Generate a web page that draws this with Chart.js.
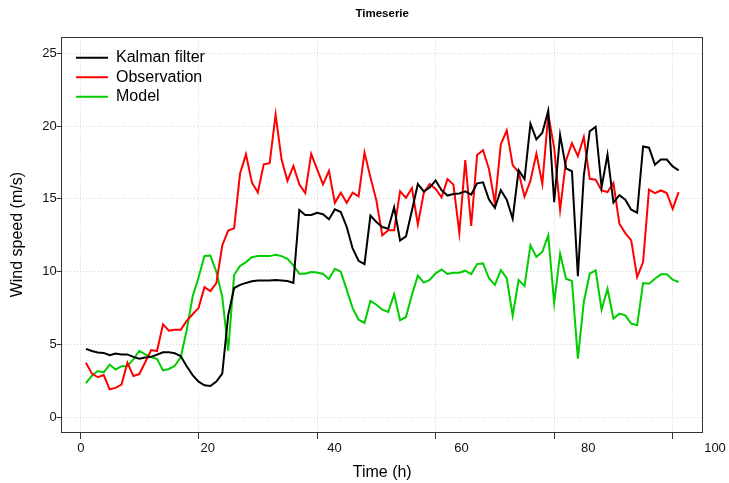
<!DOCTYPE html>
<html>
<head>
<meta charset="utf-8">
<script src="https://cdn.jsdelivr.net/npm/chart.js@4.4.1/dist/chart.umd.min.js"></script>
<style>
html,body{margin:0;padding:0;background:#fff;}
canvas{display:block;background:#fff;}
</style>
</head>
<body>
<canvas id="c" width="729" height="483"></canvas>
<script>
// ---- data ----
const hours = [1,2,3,4,5,6,7,8,9,10,11,12,13,14,15,16,17,18,19,20,
  21,22,23,24,25,26,27,28,29,30,31,32,33,34,35,36,37,38,39,40,
  41,42,43,44,45,46,47,48,49,50,51,52,53,54,55,56,57,58,59,60,
  61,62,63,64,65,66,67,68,69,70,71,72,73,74,75,76,77,78,79,80,
  81,82,83,84,85,86,87,88,89,90,91,92,93,94,95,96,97,98,99,100,101];

const kalman = [4.7,4.55,4.45,4.42,4.26,4.38,4.32,4.32,4.15,4.02,
  4.1,4.15,4.3,4.47,4.47,4.4,4.2,3.5,2.9,2.45,
  2.2,2.15,2.45,3.0,7.0,8.88,9.1,9.23,9.34,9.4,
  9.4,9.4,9.43,9.4,9.36,9.23,14.24,13.9,13.9,14.05,
  13.95,13.6,14.28,14.1,13.07,11.6,10.75,10.52,13.86,13.42,
  13.07,12.95,14.43,12.14,12.43,14.2,16.02,15.52,15.78,16.27,
  15.6,15.23,15.34,15.37,15.52,15.3,16.07,16.14,14.95,14.39,
  15.6,14.95,13.64,16.98,16.36,20.16,19.09,19.55,21.05,14.78,
  19.4,17.1,16.9,9.7,16.6,19.65,19.95,15.8,18.04,14.75,
  15.26,14.95,14.26,14.05,18.6,18.52,17.35,17.7,17.7,17.23,
  16.96];

const observation = [3.74,3.0,2.75,2.9,1.92,2.02,2.25,3.75,2.84,2.97,
  3.78,4.62,4.55,6.38,5.95,6.02,6.02,6.62,7.08,7.5,
  8.94,8.67,9.22,11.8,12.82,12.98,16.74,18.06,16.13,15.44,
  17.38,17.45,20.8,17.72,16.24,17.27,16.0,15.4,18.1,17.05,
  16.0,16.93,14.73,15.43,14.73,15.43,15.18,18.18,16.48,14.9,
  12.5,12.84,12.84,15.52,15.07,15.75,13.25,15.41,16.02,15.68,
  15.11,16.36,15.98,12.66,17.66,13.14,18.02,18.34,17.05,14.7,
  18.75,19.7,17.32,16.82,15.16,16.25,18.11,16.02,20.8,18.5,
  14.25,17.64,18.83,17.94,19.25,16.38,16.32,15.58,15.47,16.09,
  13.3,12.65,12.15,9.63,10.66,15.63,15.4,15.58,15.4,14.32,
  15.47];

const model = [2.35,2.85,3.18,3.08,3.62,3.28,3.51,3.52,3.97,4.57,
  4.32,4.14,4.0,3.22,3.32,3.54,4.14,5.98,8.3,9.6,
  11.08,11.11,10.0,8.27,4.57,9.77,10.39,10.66,11.0,11.07,
  11.07,11.07,11.16,11.07,10.89,10.43,9.86,9.86,9.98,9.95,
  9.84,9.5,10.2,10.0,8.75,7.5,6.7,6.48,8.0,7.73,
  7.39,7.23,8.45,6.66,6.89,8.41,9.73,9.25,9.43,9.89,
  10.16,9.84,9.93,9.93,10.07,9.84,10.52,10.57,9.55,9.09,
  10.11,9.55,6.98,9.43,9.02,11.82,11.02,11.36,12.5,7.85,
  11.24,9.52,9.36,4.03,7.92,9.86,10.09,7.39,8.83,6.77,
  7.12,7.0,6.43,6.32,9.22,9.17,9.52,9.82,9.82,9.45,
  9.29];

const seriesNames = ['Kalman filter', 'Observation', 'Model'];
const xTickValues = [0, 20, 40, 60, 80, 100];
const yTickValues = [0, 5, 10, 15, 20, 25];

// ---- chart ----
const FONT = "'Liberation Sans', Arial, Helvetica, sans-serif";
Chart.defaults.font.family = FONT;
Chart.defaults.color = '#111';

const toPoints = (vals) => hours.map((h, i) => ({x: h, y: vals[i]}));

const gridColor = '#d4d4d4';
const axisColor = '#333';

const legendPlacer = {
  id: 'legendPlacer',
  afterLayout(chart) {
    const lg = chart.legend, ca = chart.chartArea;
    if (!lg || !ca) return;
    const w = lg.width, h = lg.height;
    lg.left = ca.left + 10.8;
    lg.top = ca.top + 8.9;
    lg.right = lg.left + w;
    lg.bottom = lg.top + h;
  }
};

new Chart(document.getElementById('c'), {
  type: 'line',
  data: {
    datasets: [
      {label: seriesNames[0], data: toPoints(kalman), borderColor: '#000000', backgroundColor: '#000000'},
      {label: seriesNames[1], data: toPoints(observation), borderColor: '#ff0000', backgroundColor: '#ff0000'},
      {label: seriesNames[2], data: toPoints(model), borderColor: '#00cd00', backgroundColor: '#00cd00'}
    ]
  },
  plugins: [legendPlacer],
  options: {
    responsive: false,
    animation: false,
    devicePixelRatio: 1,
    datasets: {line: {borderWidth: 2, pointRadius: 0, tension: 0, fill: false}},
    layout: {padding: {left: 4, right: 26.3, top: 0, bottom: 0}},
    plugins: {
      tooltip: {enabled: false},
      title: {
        display: true, text: 'Timeserie', fullSize: false,
        font: {size: 11.5, weight: 'bold', family: FONT}, color: '#000',
        padding: {top: 7.4, bottom: 16.1}
      },
      legend: {
        position: 'chartArea', align: 'start',
        labels: {boxWidth: 32, boxHeight: 0, padding: 3.5, color: '#000', font: {size: 16, family: FONT}}
      }
    },
    scales: {
      x: {
        type: 'linear', position: 'bottom', min: -3.09, max: 105.06,
        afterBuildTicks: s => { s.ticks = xTickValues.map(v => ({value: v})); },
        ticks: {display: false},
        grid: {display: true, color: gridColor, lineWidth: 1, drawTicks: true, tickLength: 7, tickColor: axisColor, tickWidth: 1},
        border: {display: true, color: axisColor, width: 1, dash: [1, 2]}
      },
      xl: {
        type: 'linear', position: 'bottom', weight: 1, min: -3.04, max: 98.06,
        afterBuildTicks: s => { s.ticks = xTickValues.map(v => ({value: v})); },
        afterFit: s => { s.paddingLeft = 0; s.paddingRight = 0; },
        ticks: {display: true, padding: 2, autoSkip: false, maxRotation: 0, color: '#111', font: {size: 13, family: FONT}},
        grid: {display: false, drawTicks: false},
        border: {display: false},
        title: {display: true, text: 'Time (h)', color: '#000', font: {size: 16, family: FONT}, padding: {top: 4.8, bottom: 0.4}}
      },
      y: {
        type: 'linear', position: 'left', min: -1.01, max: 26.1,
        afterBuildTicks: s => { s.ticks = yTickValues.map(v => ({value: v})); },
        afterFit: s => { s.width = 57.7; },
        ticks: {padding: 0, color: '#111', font: {size: 13, family: FONT}},
        grid: {display: true, color: gridColor, lineWidth: 1, drawTicks: true, tickLength: 5, tickColor: axisColor, tickWidth: 1},
        border: {display: true, color: axisColor, width: 1, dash: [1, 2]},
        title: {display: true, text: 'Wind speed (m/s)', color: '#000', font: {size: 16, family: FONT}, padding: {top: 4.4, bottom: 14.6}}
      },
      xTop: {
        type: 'linear', position: 'top',
        ticks: {display: false}, grid: {display: false, drawTicks: false},
        border: {display: true, color: axisColor, width: 1}
      },
      yRight: {
        type: 'linear', position: 'right',
        ticks: {display: false}, grid: {display: false, drawTicks: false},
        border: {display: true, color: axisColor, width: 1}
      }
    }
  }
});
</script>
</body>
</html>
